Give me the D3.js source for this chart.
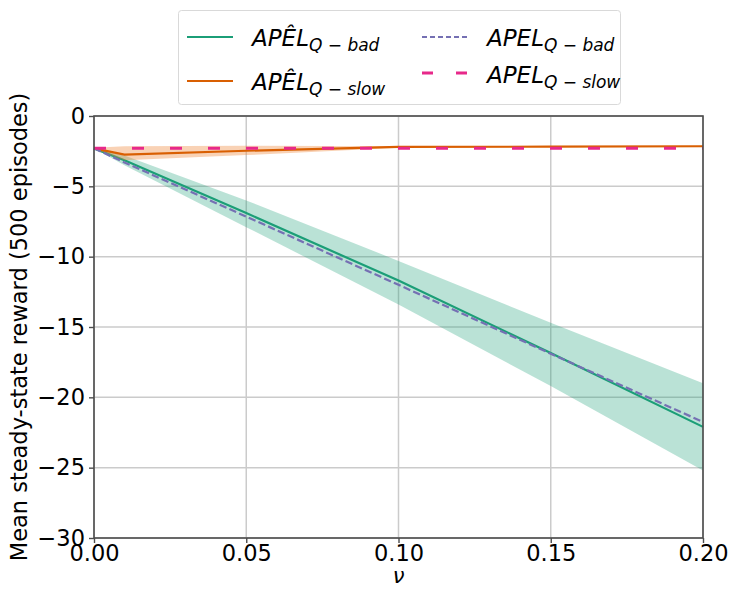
<!DOCTYPE html>
<html><head><meta charset="utf-8">
<script src="https://cdn.jsdelivr.net/npm/d3@7"></script>
<style>body{margin:0;background:#fff}svg{display:block;font-family:"DejaVu Sans",sans-serif}</style>
</head><body><svg id="c" width="731" height="589"></svg>
<script>
const nu = [0, 0.01, 0.05, 0.1, 0.15, 0.2];
const badHat   = [-2.3, -3.15, -6.9, -11.7, -16.85, -22.1];
const badHatLo = [-2.3, -3.5, -7.9, -13.4, -19.2, -25.2];
const badHatHi = [-2.3, -2.8, -6.0, -10.3, -14.7, -19.0];
const slowHat   = [-2.3, -2.75, -2.47, -2.2, -2.18, -2.15];
const slowHatLo = [-2.35, -3.15, -2.78, -2.25, -2.2, -2.17];
const slowHatHi = [-2.25, -2.15, -2.12, -2.15, -2.16, -2.13];
const bad  = [-2.3, -3.3, -7.15, -12.0, -16.9, -21.75];
const slow = [-2.3, -2.3, -2.3, -2.3, -2.3, -2.3];
const xTicks = [0, 0.05, 0.1, 0.15, 0.2];
const yTicks = [0, -5, -10, -15, -20, -25, -30];

const svg = d3.select("#c");
const L = 94, R = 703, T = 116, B = 538;
const x = d3.scaleLinear().domain([0, 0.2]).range([L, R]);
const y = d3.scaleLinear().domain([-30, 0]).range([B, T]);

// grid
svg.append("g").selectAll("line").data(xTicks).join("line")
  .attr("x1", d => x(d)).attr("x2", d => x(d)).attr("y1", T).attr("y2", B)
  .attr("stroke", "#cbcbcb").attr("stroke-width", 1.5);
svg.append("g").selectAll("line").data(yTicks).join("line")
  .attr("y1", d => y(d)).attr("y2", d => y(d)).attr("x1", L).attr("x2", R)
  .attr("stroke", "#cbcbcb").attr("stroke-width", 1.5);

const idx = d3.range(nu.length);
const area = (lo, hi) => d3.area().x(i => x(nu[i])).y0(i => y(lo[i])).y1(i => y(hi[i]))(idx);
const line = v => d3.line().x(i => x(nu[i])).y(i => y(v[i]))(idx);

svg.append("path").attr("d", area(badHatLo, badHatHi)).attr("fill", "#1b9e77").attr("fill-opacity", 0.3);
svg.append("path").attr("d", line(badHat)).attr("fill", "none").attr("stroke", "#1b9e77").attr("stroke-width", 2.2);
svg.append("path").attr("d", area(slowHatLo, slowHatHi)).attr("fill", "#ef8a3c").attr("fill-opacity", 0.38);
svg.append("path").attr("d", line(slowHat)).attr("fill", "none").attr("stroke", "#d95f02").attr("stroke-width", 2.2);
svg.append("path").attr("d", line(bad)).attr("fill", "none").attr("stroke", "#7570b3").attr("stroke-width", 2.2).attr("stroke-dasharray", "7.4,3.2");
svg.append("path").attr("d", line(slow)).attr("fill", "none").attr("stroke", "#e7298a").attr("stroke-width", 3).attr("stroke-dasharray", "12,26");

// frame
svg.append("rect").attr("x", L).attr("y", T).attr("width", R - L).attr("height", B - T)
  .attr("fill", "none").attr("stroke", "#4d4d4d").attr("stroke-width", 1.6);

// axes
const xa = svg.append("g").attr("transform", `translate(0,${B})`)
  .call(d3.axisBottom(x).tickValues(xTicks).tickFormat(d3.format(".2f")).tickSize(5).tickPadding(2));
const ya = svg.append("g").attr("transform", `translate(${L},0)`)
  .call(d3.axisLeft(y).tickValues(yTicks).tickFormat(d => d3.format("d")(d).replace("-", "\u2212")).tickSize(5).tickPadding(4));
[xa, ya].forEach(g => {
  g.select(".domain").remove();
  g.selectAll(".tick line").attr("stroke", "#4d4d4d").attr("stroke-width", 1.4);
  g.selectAll("text").attr("font-size", 22.5).attr("fill", "#000").attr("font-family", "DejaVu Sans");
});

svg.append("text").attr("x", x(0.1)).attr("y", 583).attr("text-anchor", "middle")
  .attr("font-size", 21).attr("font-style", "italic").text("ν");
svg.append("text").attr("transform", `translate(27,${(T + B) / 2}) rotate(-90)`)
  .attr("text-anchor", "middle").attr("font-size", 22.5).text("Mean steady-state reward (500 episodes)");

// legend
const lg = svg.append("g");
lg.append("rect").attr("x", 178.5).attr("y", 10.5).attr("width", 442).attr("height", 94).attr("rx", 3)
  .attr("fill", "#fff").attr("stroke", "#d9d9d9").attr("stroke-width", 1);
const items = [
  {c: "#1b9e77", dash: null, w: 2.2, x1: 187, x2: 233, ly: 37, tx: 252, ty: 46, main: "APÊL", sub: "Q − bad"},
  {c: "#d95f02", dash: null, w: 2.2, x1: 187, x2: 233, ly: 81, tx: 252, ty: 90, main: "APÊL", sub: "Q − slow"},
  {c: "#7570b3", dash: "5,3", w: 2.2, x1: 422, x2: 467, ly: 37, tx: 487, ty: 46, main: "APEL", sub: "Q − bad"},
  {c: "#e7298a", dash: "11,23", w: 3, x1: 422, x2: 467, ly: 73, tx: 487, ty: 83, main: "APEL", sub: "Q − slow"}
];
items.forEach(it => {
  lg.append("line").attr("x1", it.x1).attr("x2", it.x2).attr("y1", it.ly).attr("y2", it.ly)
    .attr("stroke", it.c).attr("stroke-width", it.w).attr("stroke-dasharray", it.dash);
  const t = lg.append("text").attr("x", it.tx).attr("y", it.ty).attr("font-style", "italic").attr("font-size", 23);
  t.append("tspan").text(it.main);
  t.append("tspan").attr("dy", 4.5).attr("font-size", 17).text(it.sub);
});
</script></body></html>
